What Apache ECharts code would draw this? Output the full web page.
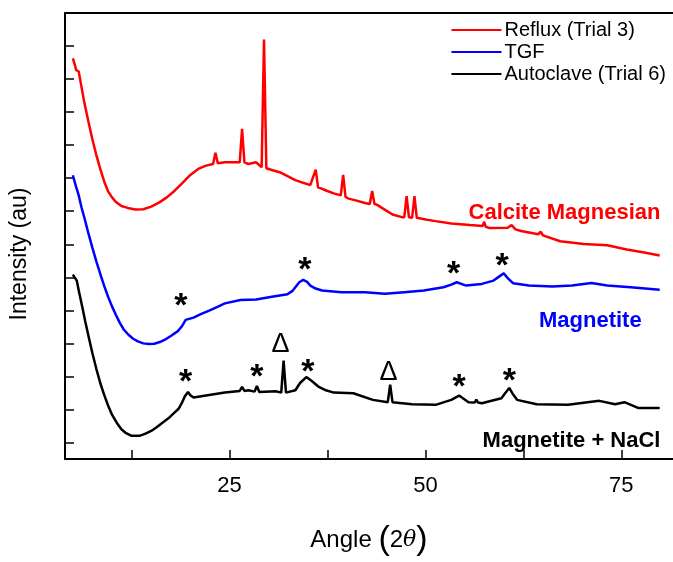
<!DOCTYPE html>
<html>
<head>
<meta charset="utf-8">
<script src="https://cdn.jsdelivr.net/npm/echarts@6/dist/echarts.min.js"></script>
<style>
  html, body { margin: 0; padding: 0; background: #fff; }
  #chart { width: 673px; height: 562px; }
</style>
</head>
<body>
<div id="chart"></div>
<script>
// XRD patterns (angle 2θ, offset intensity in au)
var refluxAngle = [5.0, 5.3, 5.4, 5.75, 6.0, 6.5, 7.0, 7.5, 8.0, 8.5, 9.0, 9.5, 10.0, 10.5, 11.2, 12.0, 13.0, 14.0, 15.0, 16.0, 17.0, 18.0, 19.0, 20.0, 21.0, 22.0, 22.9, 23.2, 23.5, 24.4, 25.9, 26.3, 26.6, 26.9, 27.4, 28.4, 29.1, 29.4, 29.7, 30.5, 31.4, 32.4, 33.4, 34.4, 35.3, 36.0, 36.3, 36.6, 37.4, 38.3, 39.2, 39.5, 39.8, 40.1, 41.2, 42.3, 42.9, 43.2, 43.5, 43.8, 44.8, 45.8, 47.0, 47.3, 47.6, 47.9, 48.3, 48.6, 48.9, 49.0, 50.2, 51.3, 53.3, 55.7, 57.3, 57.5, 57.7, 58.2, 60.5, 61.0, 61.5, 62.2, 64.4, 64.7, 65.0, 67.2, 70.2, 73.2, 75.7, 78.1, 79.9];
var refluxIntensity = [12.13, 11.9, 11.78, 11.73, 11.4, 10.75, 10.2, 9.67, 9.2, 8.78, 8.4, 8.1, 7.92, 7.78, 7.66, 7.6, 7.55, 7.56, 7.64, 7.76, 7.92, 8.12, 8.36, 8.6, 8.78, 8.88, 8.93, 9.27, 8.95, 8.98, 8.98, 8.98, 9.99, 8.98, 8.93, 8.98, 8.83, 12.7, 8.8, 8.74, 8.68, 8.56, 8.44, 8.36, 8.29, 8.76, 8.22, 8.2, 8.12, 8.04, 7.98, 8.6, 7.94, 7.89, 7.82, 7.75, 7.72, 8.11, 7.72, 7.7, 7.55, 7.4, 7.32, 7.32, 7.96, 7.32, 7.3, 7.96, 7.3, 7.28, 7.24, 7.2, 7.13, 7.08, 7.05, 7.18, 7.03, 6.99, 7.0, 7.08, 6.95, 6.9, 6.8, 6.88, 6.77, 6.59, 6.51, 6.47, 6.34, 6.24, 6.16];

var tgfAngle = [5.0, 5.4, 5.75, 6.1, 6.5, 7.0, 7.5, 8.0, 8.5, 9.0, 9.5, 10.0, 10.5, 11.0, 11.5, 12.1, 12.7, 13.3, 14.0, 14.7, 15.4, 16.1, 16.9, 17.6, 18.4, 18.9, 19.4, 20.4, 21.4, 22.4, 23.4, 24.4, 26.4, 28.4, 30.4, 32.4, 33.0, 33.4, 33.9, 34.4, 34.9, 35.3, 36.0, 36.8, 39.3, 42.3, 44.8, 47.3, 49.8, 52.3, 53.3, 54.0, 55.2, 57.2, 58.7, 59.4, 60.0, 60.6, 61.2, 63.2, 66.2, 68.7, 71.2, 73.2, 76.2, 79.9];
var tgfIntensity = [8.59, 8.25, 7.98, 7.62, 7.28, 6.82, 6.39, 5.98, 5.6, 5.24, 4.91, 4.62, 4.36, 4.12, 3.92, 3.76, 3.64, 3.56, 3.5, 3.48, 3.49, 3.54, 3.63, 3.74, 3.87, 4.01, 4.21, 4.28, 4.39, 4.49, 4.6, 4.71, 4.81, 4.83, 4.91, 4.99, 5.08, 5.2, 5.35, 5.42, 5.36, 5.25, 5.16, 5.1, 5.05, 5.05, 5.0, 5.05, 5.1, 5.2, 5.28, 5.35, 5.25, 5.3, 5.4, 5.52, 5.62, 5.45, 5.32, 5.25, 5.22, 5.25, 5.33, 5.25, 5.2, 5.12];

var autoclaveAngle = [5.0, 5.5, 5.8, 6.2, 6.6, 7.0, 7.5, 8.0, 8.5, 9.0, 9.5, 10.0, 10.6, 11.2, 11.8, 12.5, 13.5, 14.2, 15.0, 15.7, 16.4, 17.2, 17.9, 18.5, 18.9, 19.3, 19.7, 20.0, 20.4, 21.4, 22.4, 24.4, 26.3, 26.6, 26.9, 27.4, 28.2, 28.5, 28.8, 30.9, 31.6, 31.9, 32.2, 33.4, 34.0, 34.8, 35.5, 36.4, 37.3, 38.3, 40.8, 43.3, 45.2, 45.5, 45.8, 48.3, 51.3, 53.3, 54.3, 55.5, 56.3, 56.5, 56.7, 57.2, 59.7, 60.2, 60.7, 61.2, 61.7, 64.2, 68.2, 72.2, 74.2, 75.4, 77.2, 79.9];
var autoclaveIntensity = [5.58, 5.4, 5.05, 4.61, 4.15, 3.72, 3.2, 2.73, 2.3, 1.94, 1.62, 1.34, 1.1, 0.9, 0.78, 0.7, 0.7, 0.76, 0.85, 0.96, 1.09, 1.23, 1.39, 1.52, 1.69, 1.9, 2.03, 1.93, 1.86, 1.9, 1.94, 2.01, 2.06, 2.18, 2.06, 2.08, 2.04, 2.21, 2.03, 2.05, 2.01, 2.98, 2.01, 2.08, 2.3, 2.48, 2.36, 2.18, 2.08, 2.01, 1.99, 1.79, 1.72, 2.25, 1.72, 1.66, 1.64, 1.79, 1.92, 1.72, 1.71, 1.8, 1.71, 1.69, 1.84, 2.0, 2.15, 1.95, 1.79, 1.66, 1.64, 1.76, 1.66, 1.72, 1.54, 1.54];

// peak markers (* magnetite, Δ NaCl)
var starAngle = [18.8, 34.6, 53.6, 59.8, 19.4, 28.5, 35.0, 54.3, 60.7];
var starLevel = [4.6, 5.7, 5.58, 5.83, 2.31, 2.46, 2.61, 2.16, 2.33];
var deltaAngle = [31.5, 45.3];
var deltaLevel = [3.47, 2.63];

// phase labels, right-aligned
var phaseNames = ['Calcite Magnesian', 'Magnetite', 'Magnetite + NaCl'];
var phaseAngle = [80.0, 77.6, 80.0];
var phaseLevel = [7.45, 4.18, 0.55];
var phaseColors = ['#ff0000', '#0000ff', '#000000'];

var xTicks = [12.5, 25, 37.5, 50, 62.5, 75];
var xLabels = [25, 50, 75];
var yTicks = [0.5, 1.5, 2.5, 3.5, 4.5, 5.5, 6.5, 7.5, 8.5, 9.5, 10.5, 11.5, 12.5];

function zip(a, b) {
  return a.map(function (v, i) { return [v, b[i]]; });
}

var chart = echarts.init(document.getElementById('chart'));
var font = 'Liberation Sans, Arial, sans-serif';

function lineSeries(name, color, xs, ys) {
  return {
    name: name,
    type: 'line',
    symbol: 'none',
    data: zip(xs, ys),
    lineStyle: { color: color, width: 2.5 },
    itemStyle: { color: color },
    z: 3
  };
}

chart.setOption({
  animation: false,
  grid: { left: 64, right: 0, top: 13, bottom: 96 },
  legend: {
    orient: 'vertical',
    right: 2,
    top: 15,
    icon: 'rect',
    itemWidth: 50,
    itemHeight: 2,
    itemGap: 2,
    textStyle: { fontFamily: font, fontSize: 20, lineHeight: 20, color: '#000', padding: [0, 0, 0, -2] },
    data: ['Reflux (Trial 3)', 'TGF', 'Autoclave (Trial 6)']
  },
  xAxis: [{
    type: 'value',
    min: 4,
    max: 81.6,
    name: '{a|Angle }{p|(}{a|2}{t|θ}{p|)}',
    nameLocation: 'middle',
    nameGap: 64,
    nameTextStyle: {
      rich: {
        a: { fontFamily: font, fontSize: 24, color: '#000' },
        t: { fontFamily: 'DejaVu Serif', fontStyle: 'italic', fontSize: 22, color: '#000' },
        p: { fontFamily: font, fontSize: 34, color: '#000' }
      }
    },
    axisLine: { lineStyle: { color: '#000', width: 2 } },
    axisTick: { inside: true, length: 9, customValues: xTicks, lineStyle: { color: '#000', width: 1.5 } },
    axisLabel: { customValues: xLabels, fontFamily: font, fontSize: 22, color: '#000', margin: 16 },
    splitLine: { show: false }
  }, {
    type: 'value',
    position: 'top',
    min: 4,
    max: 81.6,
    axisLine: { show: true, lineStyle: { color: '#000', width: 2 } },
    axisTick: { show: false },
    axisLabel: { show: false },
    splitLine: { show: false }
  }],
  yAxis: {
    type: 'value',
    min: 0,
    max: 13.5,
    name: 'Intensity (au)',
    nameLocation: 'middle',
    nameGap: 34,
    nameTextStyle: { fontFamily: font, fontSize: 23, color: '#000', padding: [0, 36, 0, 0] },
    axisLine: { show: true, lineStyle: { color: '#000', width: 2 } },
    axisTick: { inside: true, length: 9, customValues: yTicks, lineStyle: { color: '#000', width: 1.5 } },
    axisLabel: { show: false },
    splitLine: { show: false }
  },
  series: [
    lineSeries('Reflux (Trial 3)', '#ff0000', refluxAngle, refluxIntensity),
    lineSeries('TGF', '#0000ff', tgfAngle, tgfIntensity),
    lineSeries('Autoclave (Trial 6)', '#000000', autoclaveAngle, autoclaveIntensity),
    {
      type: 'scatter',
      symbolSize: 0,
      silent: true,
      itemStyle: { opacity: 1 },
      data: zip(starAngle, starLevel),
      label: {
        show: true, position: 'inside', formatter: '*',
        fontFamily: font, fontWeight: 'bold', fontSize: 34, color: '#000'
      },
      z: 5
    },
    {
      type: 'scatter',
      symbolSize: 0,
      silent: true,
      itemStyle: { opacity: 1 },
      data: zip(deltaAngle, deltaLevel),
      label: {
        show: true, position: 'inside', formatter: 'Δ',
        fontFamily: font, fontSize: 27, color: '#000'
      },
      z: 5
    },
    {
      type: 'scatter',
      symbolSize: 0,
      silent: true,
      itemStyle: { opacity: 1 },
      data: phaseNames.map(function (n, i) {
        return {
          value: [phaseAngle[i], phaseLevel[i]],
          label: { formatter: n, color: phaseColors[i] }
        };
      }),
      label: {
        show: true, position: 'inside', align: 'right', verticalAlign: 'middle',
        fontFamily: font, fontWeight: 'bold', fontSize: 22
      },
      z: 5
    }
  ]
});
</script>
</body>
</html>
